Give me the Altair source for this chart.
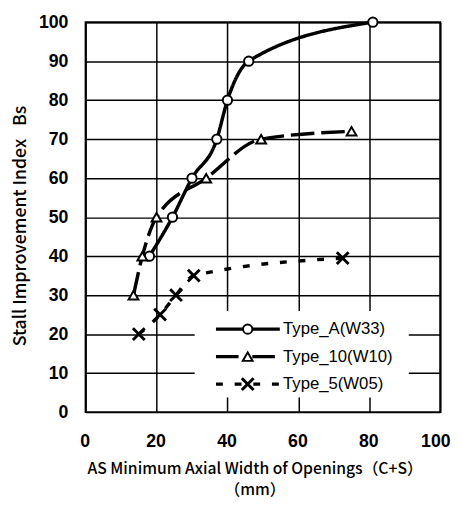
import altair as alt
import pandas as pd

series_names = ["Type_A(W33)", "Type_10(W10)", "Type_5(W05)"]

a_x = [18, 24.5, 30, 37, 40, 46, 81]
a_y = [40, 50, 60, 70, 80, 90, 100]
b_x = [13.5, 16, 20, 34, 49.5, 75]
b_y = [30, 40, 50, 60, 70, 72]
c_x = [15, 21, 25.5, 30.5, 72.5]
c_y = [20, 25, 30, 35, 39.5]

x_ticks = [0, 20, 40, 60, 80, 100]
y_ticks = [0, 10, 20, 30, 40, 50, 60, 70, 80, 90, 100]

x_title = ["AS Minimum Axial Width of Openings\uff08C+S\uff09", "\uff08mm\uff09"]
y_title = "Stall Improvement Index\u2002\u00a0Bs"

frames = []
for name, xs, ys in [(series_names[0], a_x, a_y), (series_names[1], b_x, b_y), (series_names[2], c_x, c_y)]:
    frames.append(pd.DataFrame({"x": xs, "y": ys, "series": name}))
df = pd.concat(frames, ignore_index=True)

x_scale = alt.Scale(domain=[0, 100], nice=False)
y_scale = alt.Scale(domain=[0, 100], nice=False)

x_axis = alt.Axis(
    values=x_ticks, title=x_title, grid=True, gridColor="black", gridWidth=1.5,
    gridOpacity=1, ticks=False, domain=False, labelFont="Liberation Sans",
    labelFontWeight="bold", labelFontSize=18, labelColor="black", labelPadding=21,
    labelFlush=False, labelOverlap=False,
    labelOffset={"condition": {"test": "datum.value == 100", "value": -5}, "value": -1},
    titleFont="Noto Sans CJK JP", titleFontSize=16,
    titleFontWeight=500, titleColor="black", titleX=172, titleY=49,
    titleBaseline="top", titleAlign="center", titleLineHeight=22,
)
y_axis = alt.Axis(
    values=y_ticks, title=y_title, grid=True, gridColor="black", gridWidth=1.5,
    gridOpacity=1, ticks=False, domain=False, labelFont="Liberation Sans",
    labelFontWeight="bold", labelFontSize=18, labelColor="black", labelPadding=18,
    labelFlush=False, labelOverlap=False, titleFont="Noto Sans CJK JP", titleFontSize=18,
    titleFontWeight=500, titleColor="black", titleX=-66, titleY=207,
    titleAngle=270, titleAlign="center", titleBaseline="middle",
)

x_enc = alt.X("x:Q", scale=x_scale, axis=x_axis)
y_enc = alt.Y("y:Q", scale=y_scale, axis=y_axis)

base = alt.Chart(df)

dash_styles = [[1, 0], [24, 7], [7, 12]]

lines = base.mark_line(interpolate="monotone", color="black", strokeWidth=3.5).encode(
    x=x_enc,
    y=y_enc,
    strokeDash=alt.StrokeDash(
        "series:N",
        scale=alt.Scale(domain=series_names, range=dash_styles),
        legend=None,
    ),
)

cross_path = "M-1,-1L1,1M-1,1L1,-1"
marker_styles = [
    dict(shape="circle", filled=True, fill="white", stroke="black", strokeWidth=2, size=90, opacity=1),
    dict(shape="triangle-up", filled=True, fill="white", stroke="black", strokeWidth=2, size=100, opacity=1),
    dict(shape=cross_path, filled=False, stroke="black", strokeWidth=3, size=144, opacity=1),
]

point_layers = []
for name, style in zip(series_names, marker_styles):
    point_layers.append(
        base.transform_filter(alt.datum.series == name).mark_point(**style).encode(x=x_enc, y=y_enc)
    )

# ---- legend (drawn as a guide box inside the plot) ----
one = pd.DataFrame({"k": [0]})
legend_layers = [
    alt.Chart(one).mark_rect(fill="white", stroke=None).encode(
        x=alt.value(111), x2=alt.value(329), y=alt.value(294), y2=alt.value(382)
    )
]
legend_dashes = [None, [23, 14], [7, 12]]
for i, (name, style, dash) in enumerate(zip(series_names, marker_styles, legend_dashes)):
    row_y = 312.5 + 28 * i
    rule_kwargs = dict(color="black", strokeWidth=3.5)
    if dash is not None:
        rule_kwargs["strokeDash"] = dash
    legend_layers.append(
        alt.Chart(one).mark_rule(**rule_kwargs).encode(
            x=alt.value(132.7), x2=alt.value(197.7), y=alt.value(row_y)
        )
    )
    legend_layers.append(
        alt.Chart(one).mark_point(**style).encode(x=alt.value(165), y=alt.value(row_y))
    )
    legend_layers.append(
        alt.Chart(one).mark_text(
            align="left", baseline="middle", font="Liberation Sans", fontSize=17, color="black"
        ).encode(x=alt.value(201), y=alt.value(row_y), text=alt.value(name))
    )

chart = alt.layer(lines, *point_layers, *legend_layers).properties(
    width=361,
    height=397,
    autosize="none",
    padding={"left": 79, "top": 10, "right": 13, "bottom": 83},
    background="white",
).configure_view(stroke="black", strokeWidth=2)

chart.save("out.html", embed_options={"renderer": "svg", "actions": False})
